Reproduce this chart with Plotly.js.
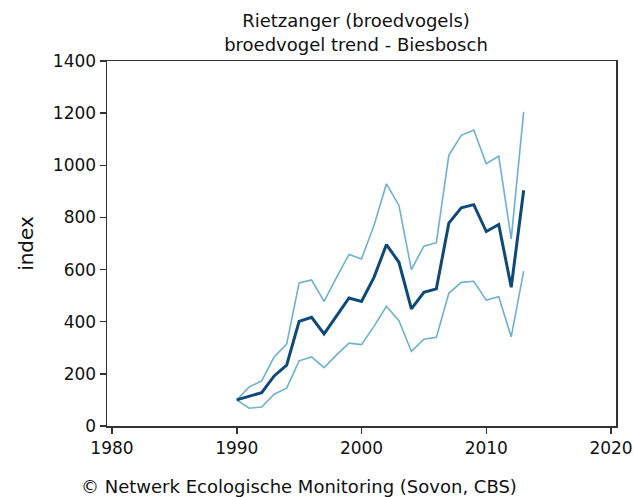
<!DOCTYPE html>
<html>
<head>
<meta charset="utf-8">
<script src="https://cdn.plot.ly/plotly-3.0.1.min.js"></script>
<style>html,body{margin:0;padding:0;background:#fff;}#chart{width:634px;height:497px;}</style>
</head>
<body>
<div id="chart"></div>
<script>
const years = [1990,1991,1992,1993,1994,1995,1996,1997,1998,1999,2000,2001,2002,2003,2004,2005,2006,2007,2008,2009,2010,2011,2012,2013];
const indexValues = [100,115,128,192,233,401,417,353,423,491,478,570,696,628,449,513,526,778,837,849,746,773,532,904];
const upperValues = [100,150,173,265,314,549,560,478,570,658,641,769,929,846,600,690,703,1038,1115,1135,1006,1035,718,1205];
const lowerValues = [100,68,73,122,145,250,265,224,273,318,312,382,459,404,286,333,340,509,551,555,483,496,342,594];
const xTicks = [1980,1990,2000,2010,2020];
const yTicks = [0,200,400,600,800,1000,1200,1400];

const font = "'DejaVu Sans', Verdana, sans-serif";
const light = '#6db1d1';
const dark = '#0d4a78';

const traces = [
  {x: years, y: upperValues, mode: 'lines', line: {color: light, width: 1.6}, hoverinfo: 'skip'},
  {x: years, y: lowerValues, mode: 'lines', line: {color: light, width: 1.6}, hoverinfo: 'skip'},
  {x: years, y: indexValues, mode: 'lines', line: {color: dark, width: 3}}
];

const layout = {
  width: 634, height: 497,
  margin: {l: 107, r: 18, t: 61, b: 71},
  paper_bgcolor: '#fff', plot_bgcolor: '#fff',
  showlegend: false,
  font: {family: font, color: '#111', size: 17},
  title: {text: 'Rietzanger (broedvogels)<br>broedvogel trend - Biesbosch', xref: 'container', x: 0.5615, xanchor: 'center', yref: 'container', y: 0.945, yanchor: 'bottom', font: {family: font, size: 18, color: '#111'}},
  xaxis: {
    range: [1979.6, 2020.4], tickvals: xTicks, ticktext: xTicks.map(String),
    showgrid: false, zeroline: false, showline: true, mirror: true,
    linecolor: '#333', linewidth: 1.5, ticks: 'outside', ticklen: 6, tickcolor: '#333', tickwidth: 1.5,
    tickfont: {family: font, size: 17, color: '#111'}
  },
  yaxis: {
    range: [0, 1400], tickvals: yTicks, ticktext: yTicks.map(String),
    showgrid: false, zeroline: false, showline: true, mirror: true,
    linecolor: '#333', linewidth: 1.5, ticks: 'outside', ticklen: 6, tickcolor: '#333', tickwidth: 1.5,
    tickfont: {family: font, size: 17, color: '#111'},
    title: {text: 'index', font: {family: font, size: 20, color: '#111'}, standoff: 14}
  },
  annotations: [{
    text: '© Netwerk Ecologische Monitoring (Sovon, CBS)', xref: 'paper', yref: 'paper',
    x: -0.055, xanchor: 'left', y: -0.131, yanchor: 'top', showarrow: false,
    font: {family: font, size: 18, color: '#111'}
  }]
};

Plotly.newPlot('chart', traces, layout, {displayModeBar: false, staticPlot: true});
</script>
</body>
</html>
